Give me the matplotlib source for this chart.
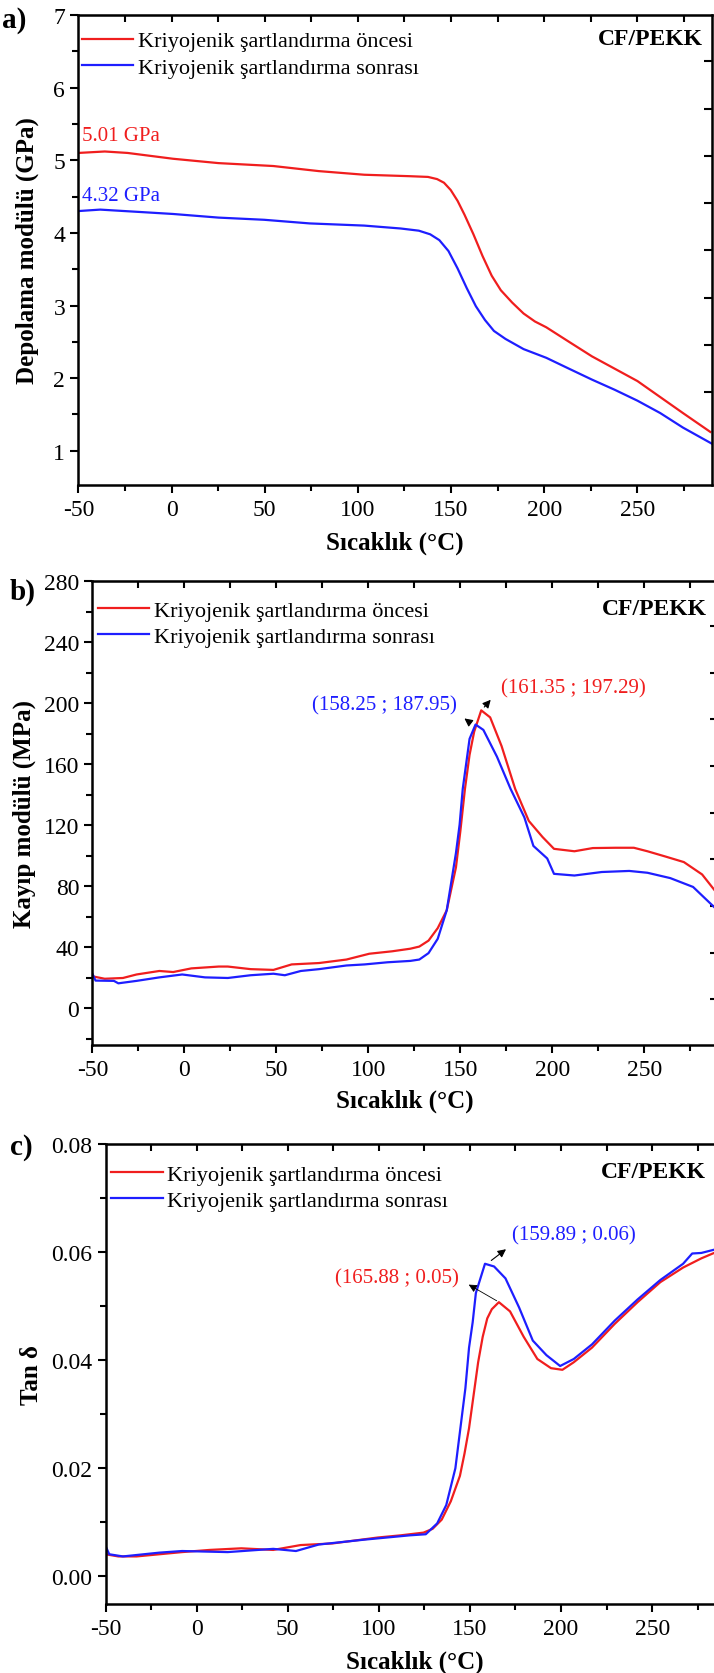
import numpy as np
import matplotlib
matplotlib.use("Agg")
import matplotlib.pyplot as plt

plt.rcParams['font.family'] = ['Liberation Serif', 'DejaVu Serif']
plt.rcParams['axes.unicode_minus'] = False

# ---- data ----
# a) storage modulus (GPa)
a_t_before = [-50, -35.8, -23.6, 0.8, 25.2, 54.6, 79, 103.4, 127.8, 137.6, 142.5, 146.2, 149.8,
              153.5, 157.2, 162, 166.9, 171.8, 176.7, 182.8, 188.9, 195, 201.1, 213.3, 225.6,
              237.8, 250, 262.2, 274.4, 289.1]
a_v_before = [5.10, 5.12, 5.10, 5.02, 4.96, 4.92, 4.85, 4.80, 4.78, 4.77, 4.74, 4.69, 4.59,
              4.44, 4.25, 3.98, 3.68, 3.41, 3.21, 3.04, 2.89, 2.78, 2.70, 2.50, 2.30,
              2.13, 1.96, 1.74, 1.52, 1.26]
a_t_after = [-50, -38.3, -18.7, 0.8, 25.2, 49.7, 74.1, 103.4, 123, 132.7, 138.8, 143.7, 148.6,
             153.5, 158.4, 163.3, 168.2, 173, 179.2, 188.9, 201.1, 213.3, 225.6, 237.8, 250,
             262.2, 274.4, 289.8]
a_v_after = [4.30, 4.32, 4.29, 4.26, 4.21, 4.18, 4.13, 4.10, 4.06, 4.03, 3.98, 3.90, 3.75,
             3.51, 3.24, 2.99, 2.80, 2.65, 2.54, 2.40, 2.28, 2.13, 1.98, 1.84, 1.69,
             1.52, 1.32, 1.10]

# b) loss modulus (MPa)
b_t_before = [-50, -43.3, -33.4, -26, -13.6, -6.1, 3.8, 18.7, 23.6, 36, 48.4, 58.3, 73.2, 88.1,
              100.5, 112.9, 122.8, 127.7, 132.7, 137.7, 142.6, 147.6, 150, 152.5, 155, 157.5,
              161.35, 166.2, 172.4, 179.8, 187.2, 194.7, 200.9, 212, 222, 234.4, 244.3, 251.7,
              261.6, 271.5, 281.4, 289]
b_v_before = [20.8, 19.2, 19.7, 22, 24.3, 23.6, 26, 27.2, 27.2, 25.5, 25, 28.6, 29.5, 31.8,
              35.6, 37.2, 38.9, 40.3, 44.2, 52.4, 64.1, 92.2, 116, 143.7, 166, 181.2,
              195.2, 190.6, 171.8, 143.7, 122.7, 112.1, 104.4, 102.8, 104.9, 105.1, 105.1, 102.8,
              99.3, 95.7, 87.6, 76]
b_t_after = [-50, -48.3, -38.3, -35.9, -26, -13.6, -1.2, 11.2, 23.6, 36, 48.4, 54.6, 63.3, 73.2,
             88.1, 98, 110.4, 122.8, 127.7, 132.7, 137.7, 142.6, 147.6, 149.6, 151.3, 155,
             158.25, 162.5, 169.9, 177.3, 184.8, 189.7, 197.2, 200.9, 212, 226.9, 241.8, 251.7,
             264.1, 276.5, 289]
b_v_after = [22.5, 18, 17.8, 16.2, 17.8, 20.1, 22, 20.1, 19.7, 21.5, 22.5, 21.5, 24.3, 25.5,
             27.9, 28.6, 30, 30.9, 31.8, 36, 45.4, 64.1, 101.6, 120.3, 143.7, 176.5,
             185.9, 182.4, 164.8, 143.7, 125, 106.3, 98.1, 88, 86.9, 89.2, 89.9, 88.7,
             85.2, 79.4, 65]

# c) tan delta
c_t_before = [-50, -43, -33, -8, 7, 24.5, 42, 57, 74.5, 99.5, 112, 124.5, 129.5, 134.5, 139.5,
              144.5, 147, 149.5, 152, 154.5, 157, 159.5, 162, 165.88, 172, 179.5, 187, 194.5,
              200.75, 207, 217, 229.5, 242, 254.5, 267, 277, 284, 290]
c_v_before = [0.0041, 0.0037, 0.0037, 0.0045, 0.0049, 0.0052, 0.0049, 0.0058, 0.0061, 0.0072,
              0.0076, 0.0081, 0.0088, 0.0105, 0.0139, 0.0186, 0.0227, 0.0274, 0.0335, 0.0396,
              0.0443, 0.0477, 0.0494, 0.0507, 0.0490, 0.0443, 0.0402, 0.0385, 0.0382, 0.0396,
              0.0423, 0.0467, 0.0507, 0.0544, 0.0571, 0.0588, 0.0598, 0.0603]
c_t_after = [-50, -48, -40.5, -20.5, -8, 17, 42, 54.5, 67, 92, 117, 125.75, 132, 137, 142,
             145.75, 147.5, 149.5, 151.5, 153.25, 155.75, 158.25, 163.25, 169.5, 177, 184.5,
             192, 199.5, 207, 217, 229.5, 242, 254.5, 267, 272, 277, 284, 290]
c_v_after = [0.0056, 0.0041, 0.0037, 0.0044, 0.0047, 0.0045, 0.0051, 0.0047, 0.0059, 0.0068,
             0.0076, 0.0078, 0.0098, 0.0132, 0.0200, 0.0301, 0.0348, 0.0423, 0.0470, 0.0524,
             0.0551, 0.0578, 0.0573, 0.0551, 0.0497, 0.0436, 0.0409, 0.0389, 0.0402, 0.0429,
             0.0473, 0.0512, 0.0548, 0.0578, 0.0597, 0.0598, 0.0604, 0.0606]

labels = ['Kriyojenik şartlandırma öncesi', 'Kriyojenik şartlandırma sonrası']
RED = '#f01e1e'
BLUE = '#1e1eff'

fig = plt.figure(figsize=(7.14, 16.74), dpi=100)

ax_a = fig.add_axes([0.1097, 0.7097, 0.8875, 0.2808])
ax_b = fig.add_axes([0.1294, 0.3751, 0.8761, 0.2772])
ax_c = fig.add_axes([0.1479, 0.0412, 0.8675, 0.2750])


def style(ax, ylim, ymaj, ymin, ylabel, ylx, xly, right_ticks, panel, panel_xy, cf_xy, leg_xy):
    ax.set_xlim(-50, 290)
    ax.set_ylim(*ylim)
    ax.set_xticks(np.arange(-50, 251, 50))
    ax.set_xticks(np.arange(-25, 290, 50), minor=True)
    ax.set_yticks(ymaj)
    ax.set_yticks(ymin, minor=True)
    for s in ax.spines.values():
        s.set_linewidth(1.8)
    ax.tick_params(which='both', direction='out', labelsize=17, width=1.5, right=False, top=False)
    ax.tick_params(which='major', length=6)
    ax.tick_params(which='minor', length=4)
    ax.tick_params(axis='x', pad=4)
    sec = ax.secondary_xaxis('top')
    sec.set_xticks(np.arange(-25, 290, 25))
    sec.tick_params(direction='in', length=5, width=1.5, labeltop=False)
    sec2 = ax.secondary_yaxis('right')
    sec2.set_yticks(right_ticks)
    sec2.tick_params(direction='in', length=6, width=1.5, labelright=False)
    ax.set_ylabel(ylabel, fontsize=18, fontweight='bold')
    ax.yaxis.set_label_coords(ylx, 0.5)
    ax.text(0.5, xly, 'Sıcaklık (°C)', transform=ax.transAxes, ha='center', va='center',
            fontsize=18, fontweight='bold')
    fig.text(panel_xy[0], panel_xy[1], panel, fontsize=21, fontweight='bold', ha='left', va='center')
    ax.text(cf_xy[0], cf_xy[1], 'CF/PEKK', transform=ax.transAxes, fontsize=17, fontweight='bold',
            ha='left', va='center')
    ax.legend(loc='upper left', bbox_to_anchor=leg_xy, frameon=False, fontsize=16,
              handlelength=2.3, handletextpad=0.2, labelspacing=0.25, borderaxespad=0)


# panel a
ax_a.plot(a_t_before, a_v_before, color=RED, lw=1.6, label=labels[0])
ax_a.plot(a_t_after, a_v_after, color=BLUE, lw=1.6, label=labels[1])
style(ax_a, (0.53, 7), np.arange(1, 7.1, 1), np.arange(1.5, 7, 1), 'Depolama modülü (GPa)',
      -0.062, -0.121, np.arange(1.81, 7, 0.65), 'a)', (0.003, 1 - 20 / 1674), (0.82, 0.95),
      (-0.008, 0.985))
ax_a.text(-48, 5.34, '5.01 GPa', color=RED, fontsize=15, va='center', ha='left')
ax_a.text(-48, 4.51, '4.32 GPa', color=BLUE, fontsize=15, va='center', ha='left')

# panel b
ax_b.plot(b_t_before, b_v_before, color=RED, lw=1.6, label=labels[0])
ax_b.plot(b_t_after, b_v_after, color=BLUE, lw=1.6, label=labels[1])
style(ax_b, (-24.3, 280), np.arange(0, 281, 40), np.arange(-20, 280, 40), 'Kayıp modülü (MPa)',
      -0.0895, -0.120, np.arange(5.7, 280, 30.6), 'b)', (0.014, 1 - 592 / 1674), (0.815, 0.94),
      (-0.005, 0.978))
ax_b.annotate('', xy=(151, 191), xytext=(156.5, 186),
              arrowprops=dict(arrowstyle='-|>', color='k', lw=0.8, mutation_scale=12))
ax_b.text(109, 198.7, '(158.25 ; 187.95)', color=BLUE, fontsize=15, ha='center', va='center')
ax_b.annotate('', xy=(167.5, 203.5), xytext=(162, 196),
              arrowprops=dict(arrowstyle='-|>', color='k', lw=0.8, mutation_scale=12))
ax_b.text(211.5, 209.8, '(161.35 ; 197.29)', color=RED, fontsize=15, ha='center', va='center')

# panel c
ax_c.plot(c_t_before, c_v_before, color=RED, lw=1.6, label=labels[0])
ax_c.plot(c_t_after, c_v_after, color=BLUE, lw=1.6, label=labels[1])
style(ax_c, (-0.0051, 0.08), np.arange(0, 0.081, 0.02), np.arange(0.01, 0.08, 0.02), 'Tan δ',
      -0.101, -0.124, np.arange(0.01, 0.08, 0.0173), 'c)', (0.014, 1 - 1148 / 1674), (0.80, 0.94),
      (-0.005, 0.975))
ax_c.set_yticklabels(['0.00', '0.02', '0.04', '0.06', '0.08'])
ax_c.annotate('', xy=(171, 0.0608), xytext=(160.5, 0.0581),
              arrowprops=dict(arrowstyle='-|>', color='k', lw=0.8, mutation_scale=12))
ax_c.text(207, 0.0631, '(159.89 ; 0.06)', color=BLUE, fontsize=15, ha='center', va='center')
ax_c.annotate('', xy=(148, 0.0542), xytext=(166, 0.0507),
              arrowprops=dict(arrowstyle='-|>', color='k', lw=0.6, mutation_scale=12))
ax_c.text(110, 0.0552, '(165.88 ; 0.05)', color=RED, fontsize=15, ha='center', va='center')

fig.savefig('out.png', dpi=100)
